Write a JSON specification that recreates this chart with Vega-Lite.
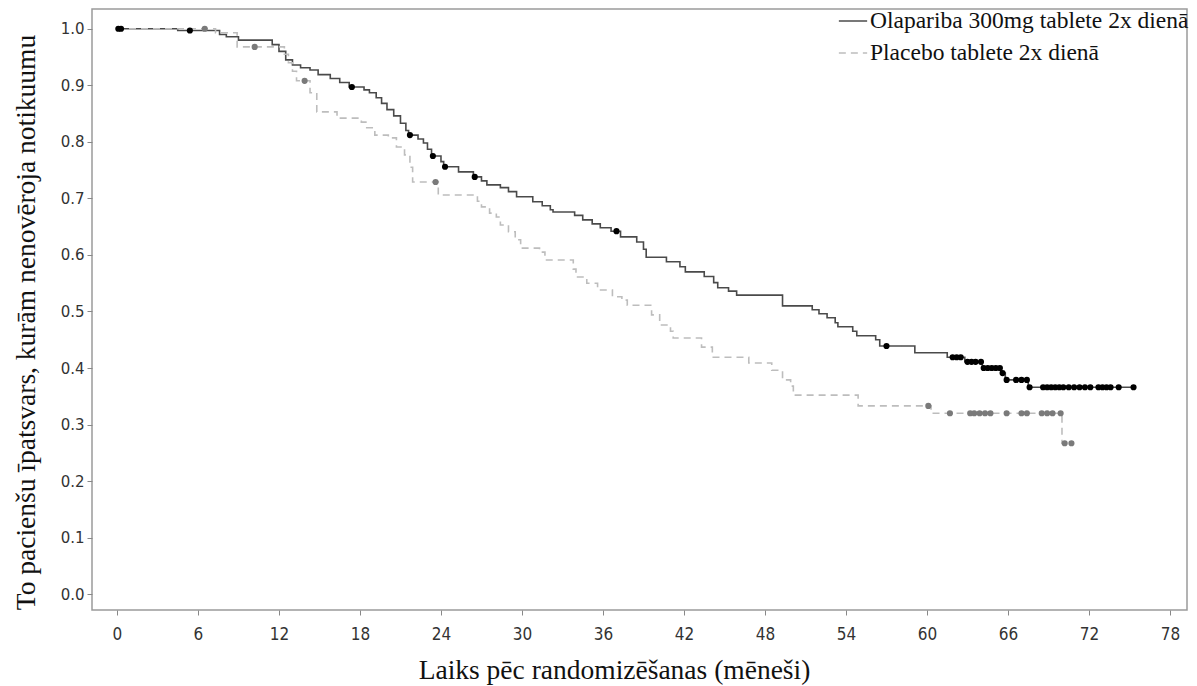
{
  "$schema": "https://vega.github.io/schema/vega-lite/v6.json",
  "width": 1095,
  "height": 601,
  "autosize": {"type": "none"},
  "padding": {"left": 92, "top": 9, "right": 10, "bottom": 76},
  "background": "white",
  "config": {
    "view": {"stroke": "#9a9a9a", "strokeWidth": 1.5},
    "axis": {"grid": false, "domain": false, "tickColor": "#888", "tickSize": 5, "labelColor": "#333", "titleColor": "#111", "titleFont": "Liberation Serif", "titleFontWeight": "normal", "titleFontSize": 27.5}
  },
  "datasets": {
    "curves": [
      {"group": "Olapariba 300mg tablete 2x dienā", "t": 0, "s": 1.0},
      {"group": "Olapariba 300mg tablete 2x dienā", "t": 4.5, "s": 0.997},
      {"group": "Olapariba 300mg tablete 2x dienā", "t": 7.6, "s": 0.990},
      {"group": "Olapariba 300mg tablete 2x dienā", "t": 8.1, "s": 0.986},
      {"group": "Olapariba 300mg tablete 2x dienā", "t": 9.0, "s": 0.980},
      {"group": "Olapariba 300mg tablete 2x dienā", "t": 11.5, "s": 0.972},
      {"group": "Olapariba 300mg tablete 2x dienā", "t": 12.0, "s": 0.960},
      {"group": "Olapariba 300mg tablete 2x dienā", "t": 12.5, "s": 0.945},
      {"group": "Olapariba 300mg tablete 2x dienā", "t": 13.0, "s": 0.936},
      {"group": "Olapariba 300mg tablete 2x dienā", "t": 13.6, "s": 0.931},
      {"group": "Olapariba 300mg tablete 2x dienā", "t": 14.3, "s": 0.927},
      {"group": "Olapariba 300mg tablete 2x dienā", "t": 14.9, "s": 0.919},
      {"group": "Olapariba 300mg tablete 2x dienā", "t": 15.8, "s": 0.912},
      {"group": "Olapariba 300mg tablete 2x dienā", "t": 16.5, "s": 0.905},
      {"group": "Olapariba 300mg tablete 2x dienā", "t": 17.2, "s": 0.897},
      {"group": "Olapariba 300mg tablete 2x dienā", "t": 18.3, "s": 0.892},
      {"group": "Olapariba 300mg tablete 2x dienā", "t": 18.7, "s": 0.887},
      {"group": "Olapariba 300mg tablete 2x dienā", "t": 19.2, "s": 0.878},
      {"group": "Olapariba 300mg tablete 2x dienā", "t": 19.6, "s": 0.868},
      {"group": "Olapariba 300mg tablete 2x dienā", "t": 20.0, "s": 0.857},
      {"group": "Olapariba 300mg tablete 2x dienā", "t": 20.5, "s": 0.846},
      {"group": "Olapariba 300mg tablete 2x dienā", "t": 21.0, "s": 0.833},
      {"group": "Olapariba 300mg tablete 2x dienā", "t": 21.4, "s": 0.820},
      {"group": "Olapariba 300mg tablete 2x dienā", "t": 21.6, "s": 0.812},
      {"group": "Olapariba 300mg tablete 2x dienā", "t": 22.3, "s": 0.805},
      {"group": "Olapariba 300mg tablete 2x dienā", "t": 22.7, "s": 0.798},
      {"group": "Olapariba 300mg tablete 2x dienā", "t": 23.0, "s": 0.787},
      {"group": "Olapariba 300mg tablete 2x dienā", "t": 23.3, "s": 0.775},
      {"group": "Olapariba 300mg tablete 2x dienā", "t": 24.0, "s": 0.765},
      {"group": "Olapariba 300mg tablete 2x dienā", "t": 24.2, "s": 0.756},
      {"group": "Olapariba 300mg tablete 2x dienā", "t": 25.3, "s": 0.747},
      {"group": "Olapariba 300mg tablete 2x dienā", "t": 26.4, "s": 0.738},
      {"group": "Olapariba 300mg tablete 2x dienā", "t": 27.0, "s": 0.731},
      {"group": "Olapariba 300mg tablete 2x dienā", "t": 27.4, "s": 0.724},
      {"group": "Olapariba 300mg tablete 2x dienā", "t": 28.4, "s": 0.719},
      {"group": "Olapariba 300mg tablete 2x dienā", "t": 29.0, "s": 0.712},
      {"group": "Olapariba 300mg tablete 2x dienā", "t": 29.6, "s": 0.703},
      {"group": "Olapariba 300mg tablete 2x dienā", "t": 30.8, "s": 0.694},
      {"group": "Olapariba 300mg tablete 2x dienā", "t": 31.5, "s": 0.687},
      {"group": "Olapariba 300mg tablete 2x dienā", "t": 32.1, "s": 0.680},
      {"group": "Olapariba 300mg tablete 2x dienā", "t": 32.3, "s": 0.676},
      {"group": "Olapariba 300mg tablete 2x dienā", "t": 33.9, "s": 0.670},
      {"group": "Olapariba 300mg tablete 2x dienā", "t": 34.5, "s": 0.662},
      {"group": "Olapariba 300mg tablete 2x dienā", "t": 35.2, "s": 0.655},
      {"group": "Olapariba 300mg tablete 2x dienā", "t": 35.8, "s": 0.648},
      {"group": "Olapariba 300mg tablete 2x dienā", "t": 36.6, "s": 0.642},
      {"group": "Olapariba 300mg tablete 2x dienā", "t": 37.3, "s": 0.632},
      {"group": "Olapariba 300mg tablete 2x dienā", "t": 38.5, "s": 0.623},
      {"group": "Olapariba 300mg tablete 2x dienā", "t": 39.0, "s": 0.610},
      {"group": "Olapariba 300mg tablete 2x dienā", "t": 39.2, "s": 0.596},
      {"group": "Olapariba 300mg tablete 2x dienā", "t": 40.7, "s": 0.588},
      {"group": "Olapariba 300mg tablete 2x dienā", "t": 41.7, "s": 0.579},
      {"group": "Olapariba 300mg tablete 2x dienā", "t": 42.1, "s": 0.570},
      {"group": "Olapariba 300mg tablete 2x dienā", "t": 43.5, "s": 0.562},
      {"group": "Olapariba 300mg tablete 2x dienā", "t": 44.2, "s": 0.551},
      {"group": "Olapariba 300mg tablete 2x dienā", "t": 44.5, "s": 0.542},
      {"group": "Olapariba 300mg tablete 2x dienā", "t": 45.3, "s": 0.536},
      {"group": "Olapariba 300mg tablete 2x dienā", "t": 45.9, "s": 0.529},
      {"group": "Olapariba 300mg tablete 2x dienā", "t": 49.3, "s": 0.510},
      {"group": "Olapariba 300mg tablete 2x dienā", "t": 51.5, "s": 0.503},
      {"group": "Olapariba 300mg tablete 2x dienā", "t": 52.0, "s": 0.496},
      {"group": "Olapariba 300mg tablete 2x dienā", "t": 52.6, "s": 0.489},
      {"group": "Olapariba 300mg tablete 2x dienā", "t": 53.2, "s": 0.480},
      {"group": "Olapariba 300mg tablete 2x dienā", "t": 53.4, "s": 0.473},
      {"group": "Olapariba 300mg tablete 2x dienā", "t": 54.5, "s": 0.465},
      {"group": "Olapariba 300mg tablete 2x dienā", "t": 54.8, "s": 0.457},
      {"group": "Olapariba 300mg tablete 2x dienā", "t": 56.2, "s": 0.450},
      {"group": "Olapariba 300mg tablete 2x dienā", "t": 56.5, "s": 0.439},
      {"group": "Olapariba 300mg tablete 2x dienā", "t": 59.1, "s": 0.427},
      {"group": "Olapariba 300mg tablete 2x dienā", "t": 61.5, "s": 0.419},
      {"group": "Olapariba 300mg tablete 2x dienā", "t": 62.8, "s": 0.411},
      {"group": "Olapariba 300mg tablete 2x dienā", "t": 64.1, "s": 0.400},
      {"group": "Olapariba 300mg tablete 2x dienā", "t": 65.5, "s": 0.391},
      {"group": "Olapariba 300mg tablete 2x dienā", "t": 65.8, "s": 0.379},
      {"group": "Olapariba 300mg tablete 2x dienā", "t": 67.5, "s": 0.366},
      {"group": "Olapariba 300mg tablete 2x dienā", "t": 75.3, "s": 0.366},
      {"group": "Placebo tablete 2x dienā", "t": 0, "s": 1.0},
      {"group": "Placebo tablete 2x dienā", "t": 7.3, "s": 0.993},
      {"group": "Placebo tablete 2x dienā", "t": 8.9, "s": 0.968},
      {"group": "Placebo tablete 2x dienā", "t": 12.4, "s": 0.955},
      {"group": "Placebo tablete 2x dienā", "t": 12.7, "s": 0.940},
      {"group": "Placebo tablete 2x dienā", "t": 13.0, "s": 0.925},
      {"group": "Placebo tablete 2x dienā", "t": 13.3, "s": 0.908},
      {"group": "Placebo tablete 2x dienā", "t": 14.3, "s": 0.887},
      {"group": "Placebo tablete 2x dienā", "t": 14.8, "s": 0.853},
      {"group": "Placebo tablete 2x dienā", "t": 16.3, "s": 0.842},
      {"group": "Placebo tablete 2x dienā", "t": 18.1, "s": 0.835},
      {"group": "Placebo tablete 2x dienā", "t": 18.5, "s": 0.825},
      {"group": "Placebo tablete 2x dienā", "t": 19.1, "s": 0.812},
      {"group": "Placebo tablete 2x dienā", "t": 20.1, "s": 0.807},
      {"group": "Placebo tablete 2x dienā", "t": 20.7, "s": 0.791},
      {"group": "Placebo tablete 2x dienā", "t": 21.3, "s": 0.777},
      {"group": "Placebo tablete 2x dienā", "t": 21.7, "s": 0.755},
      {"group": "Placebo tablete 2x dienā", "t": 21.9, "s": 0.729},
      {"group": "Placebo tablete 2x dienā", "t": 23.8, "s": 0.706},
      {"group": "Placebo tablete 2x dienā", "t": 26.7, "s": 0.695},
      {"group": "Placebo tablete 2x dienā", "t": 27.0, "s": 0.685},
      {"group": "Placebo tablete 2x dienā", "t": 27.6, "s": 0.674},
      {"group": "Placebo tablete 2x dienā", "t": 28.1, "s": 0.667},
      {"group": "Placebo tablete 2x dienā", "t": 28.4, "s": 0.653},
      {"group": "Placebo tablete 2x dienā", "t": 29.0, "s": 0.641},
      {"group": "Placebo tablete 2x dienā", "t": 29.5, "s": 0.627},
      {"group": "Placebo tablete 2x dienā", "t": 29.9, "s": 0.612},
      {"group": "Placebo tablete 2x dienā", "t": 31.3, "s": 0.605},
      {"group": "Placebo tablete 2x dienā", "t": 31.7, "s": 0.591},
      {"group": "Placebo tablete 2x dienā", "t": 33.8, "s": 0.575},
      {"group": "Placebo tablete 2x dienā", "t": 34.0, "s": 0.561},
      {"group": "Placebo tablete 2x dienā", "t": 34.8, "s": 0.550},
      {"group": "Placebo tablete 2x dienā", "t": 35.6, "s": 0.538},
      {"group": "Placebo tablete 2x dienā", "t": 36.7, "s": 0.526},
      {"group": "Placebo tablete 2x dienā", "t": 37.4, "s": 0.520},
      {"group": "Placebo tablete 2x dienā", "t": 37.8, "s": 0.511},
      {"group": "Placebo tablete 2x dienā", "t": 39.6, "s": 0.494},
      {"group": "Placebo tablete 2x dienā", "t": 40.2, "s": 0.476},
      {"group": "Placebo tablete 2x dienā", "t": 41.0, "s": 0.465},
      {"group": "Placebo tablete 2x dienā", "t": 41.2, "s": 0.453},
      {"group": "Placebo tablete 2x dienā", "t": 43.3, "s": 0.437},
      {"group": "Placebo tablete 2x dienā", "t": 44.1, "s": 0.419},
      {"group": "Placebo tablete 2x dienā", "t": 46.8, "s": 0.409},
      {"group": "Placebo tablete 2x dienā", "t": 48.5, "s": 0.396},
      {"group": "Placebo tablete 2x dienā", "t": 49.3, "s": 0.379},
      {"group": "Placebo tablete 2x dienā", "t": 49.9, "s": 0.368},
      {"group": "Placebo tablete 2x dienā", "t": 50.1, "s": 0.352},
      {"group": "Placebo tablete 2x dienā", "t": 54.9, "s": 0.333},
      {"group": "Placebo tablete 2x dienā", "t": 60.3, "s": 0.320},
      {"group": "Placebo tablete 2x dienā", "t": 70.0, "s": 0.267},
      {"group": "Placebo tablete 2x dienā", "t": 70.8, "s": 0.267}
    ],
    "censors": [
      {"group": "Olapariba", "t": 0.1, "s": 1.0},
      {"group": "Olapariba", "t": 0.3, "s": 1.0},
      {"group": "Olapariba", "t": 5.4, "s": 0.997},
      {"group": "Olapariba", "t": 17.4, "s": 0.897},
      {"group": "Olapariba", "t": 21.7, "s": 0.812},
      {"group": "Olapariba", "t": 23.4, "s": 0.775},
      {"group": "Olapariba", "t": 24.3, "s": 0.756},
      {"group": "Olapariba", "t": 26.5, "s": 0.738},
      {"group": "Olapariba", "t": 37.0, "s": 0.642},
      {"group": "Olapariba", "t": 57.0, "s": 0.439},
      {"group": "Olapariba", "t": 61.9, "s": 0.419},
      {"group": "Olapariba", "t": 62.2, "s": 0.419},
      {"group": "Olapariba", "t": 62.5, "s": 0.419},
      {"group": "Olapariba", "t": 63.0, "s": 0.411},
      {"group": "Olapariba", "t": 63.3, "s": 0.411},
      {"group": "Olapariba", "t": 63.6, "s": 0.411},
      {"group": "Olapariba", "t": 64.0, "s": 0.411},
      {"group": "Olapariba", "t": 64.2, "s": 0.400},
      {"group": "Olapariba", "t": 64.5, "s": 0.400},
      {"group": "Olapariba", "t": 64.8, "s": 0.400},
      {"group": "Olapariba", "t": 65.1, "s": 0.400},
      {"group": "Olapariba", "t": 65.4, "s": 0.400},
      {"group": "Olapariba", "t": 65.6, "s": 0.391},
      {"group": "Olapariba", "t": 65.9, "s": 0.379},
      {"group": "Olapariba", "t": 66.6, "s": 0.379},
      {"group": "Olapariba", "t": 67.0, "s": 0.379},
      {"group": "Olapariba", "t": 67.4, "s": 0.379},
      {"group": "Olapariba", "t": 67.6, "s": 0.366},
      {"group": "Olapariba", "t": 68.6, "s": 0.366},
      {"group": "Olapariba", "t": 68.9, "s": 0.366},
      {"group": "Olapariba", "t": 69.2, "s": 0.366},
      {"group": "Olapariba", "t": 69.5, "s": 0.366},
      {"group": "Olapariba", "t": 69.8, "s": 0.366},
      {"group": "Olapariba", "t": 70.1, "s": 0.366},
      {"group": "Olapariba", "t": 70.5, "s": 0.366},
      {"group": "Olapariba", "t": 70.9, "s": 0.366},
      {"group": "Olapariba", "t": 71.3, "s": 0.366},
      {"group": "Olapariba", "t": 71.7, "s": 0.366},
      {"group": "Olapariba", "t": 72.1, "s": 0.366},
      {"group": "Olapariba", "t": 72.7, "s": 0.366},
      {"group": "Olapariba", "t": 73.0, "s": 0.366},
      {"group": "Olapariba", "t": 73.3, "s": 0.366},
      {"group": "Olapariba", "t": 73.6, "s": 0.366},
      {"group": "Olapariba", "t": 74.2, "s": 0.366},
      {"group": "Olapariba", "t": 75.3, "s": 0.366},
      {"group": "Placebo", "t": 6.5, "s": 1.0},
      {"group": "Placebo", "t": 10.2, "s": 0.968},
      {"group": "Placebo", "t": 13.9, "s": 0.908},
      {"group": "Placebo", "t": 23.6, "s": 0.729},
      {"group": "Placebo", "t": 60.1, "s": 0.333},
      {"group": "Placebo", "t": 61.7, "s": 0.320},
      {"group": "Placebo", "t": 63.2, "s": 0.320},
      {"group": "Placebo", "t": 63.5, "s": 0.320},
      {"group": "Placebo", "t": 63.9, "s": 0.320},
      {"group": "Placebo", "t": 64.3, "s": 0.320},
      {"group": "Placebo", "t": 64.7, "s": 0.320},
      {"group": "Placebo", "t": 65.9, "s": 0.320},
      {"group": "Placebo", "t": 67.0, "s": 0.320},
      {"group": "Placebo", "t": 67.4, "s": 0.320},
      {"group": "Placebo", "t": 68.5, "s": 0.320},
      {"group": "Placebo", "t": 68.9, "s": 0.320},
      {"group": "Placebo", "t": 69.3, "s": 0.320},
      {"group": "Placebo", "t": 69.9, "s": 0.320},
      {"group": "Placebo", "t": 70.2, "s": 0.267},
      {"group": "Placebo", "t": 70.7, "s": 0.267}
    ]
  },
  "layer": [
    {
      "data": {"name": "curves"},
      "mark": {"type": "line", "interpolate": "step-after", "strokeWidth": 1.6},
      "encoding": {
        "x": {
          "field": "t", "type": "quantitative",
          "scale": {"domain": [-1.85, 79.26], "nice": false, "zero": false},
          "axis": {"values": [0, 6, 12, 18, 24, 30, 36, 42, 48, 54, 60, 66, 72, 78], "labelFont": "DejaVu Sans Condensed", "labelFontSize": 17, "labelPadding": 11, "title": "Laiks pēc randomizēšanas (mēneši)", "titlePadding": 14, "titleX": 522, "titleAnchor": "start", "titleAlign": "center"}
        },
        "y": {
          "field": "s", "type": "quantitative",
          "scale": {"domain": [-0.028, 1.035], "nice": false, "zero": false},
          "axis": {"values": [0, 0.1, 0.2, 0.3, 0.4, 0.5, 0.6, 0.7, 0.8, 0.9, 1.0], "format": ".1f", "labelFont": "DejaVu Sans", "labelFontSize": 15, "labelPadding": 3, "title": "To pacienšu īpatsvars,  kurām  nenovēroja  notikuumu", "titlePadding": 20, "titleY": 313, "titleAnchor": "start", "titleAlign": "center"}
        },
        "color": {
          "field": "group", "type": "nominal",
          "scale": {"domain": ["Olapariba 300mg tablete 2x dienā", "Placebo tablete 2x dienā"], "range": ["#4a4a4a", "#bdbdbd"]},
          "legend": {"title": null, "orient": "none", "legendX": 746, "legendY": -3, "symbolType": "stroke", "symbolSize": 800, "symbolStrokeWidth": 1.5, "labelFont": "Liberation Serif", "labelFontSize": 23.5, "labelColor": "#111", "labelOffset": 2, "rowPadding": 5, "labelLimit": 400}
        },
        "strokeDash": {
          "field": "group", "type": "nominal",
          "scale": {"domain": ["Olapariba 300mg tablete 2x dienā", "Placebo tablete 2x dienā"], "range": [[1, 0], [7, 5]]},
          "legend": {"title": null, "orient": "none", "legendX": 746, "legendY": -3, "symbolType": "stroke", "symbolSize": 800, "symbolStrokeWidth": 1.5, "labelFont": "Liberation Serif", "labelFontSize": 23.5, "labelColor": "#111", "labelOffset": 2, "rowPadding": 5, "labelLimit": 400}
        }
      }
    },
    {
      "data": {"name": "censors"},
      "mark": {"type": "point", "filled": true, "size": 38, "opacity": 1},
      "encoding": {
        "x": {"field": "t", "type": "quantitative"},
        "y": {"field": "s", "type": "quantitative"},
        "fill": {"field": "group", "type": "nominal", "scale": {"domain": ["Olapariba", "Placebo"], "range": ["#000000", "#7a7a7a"]}, "legend": null}
      }
    }
  ]
}
